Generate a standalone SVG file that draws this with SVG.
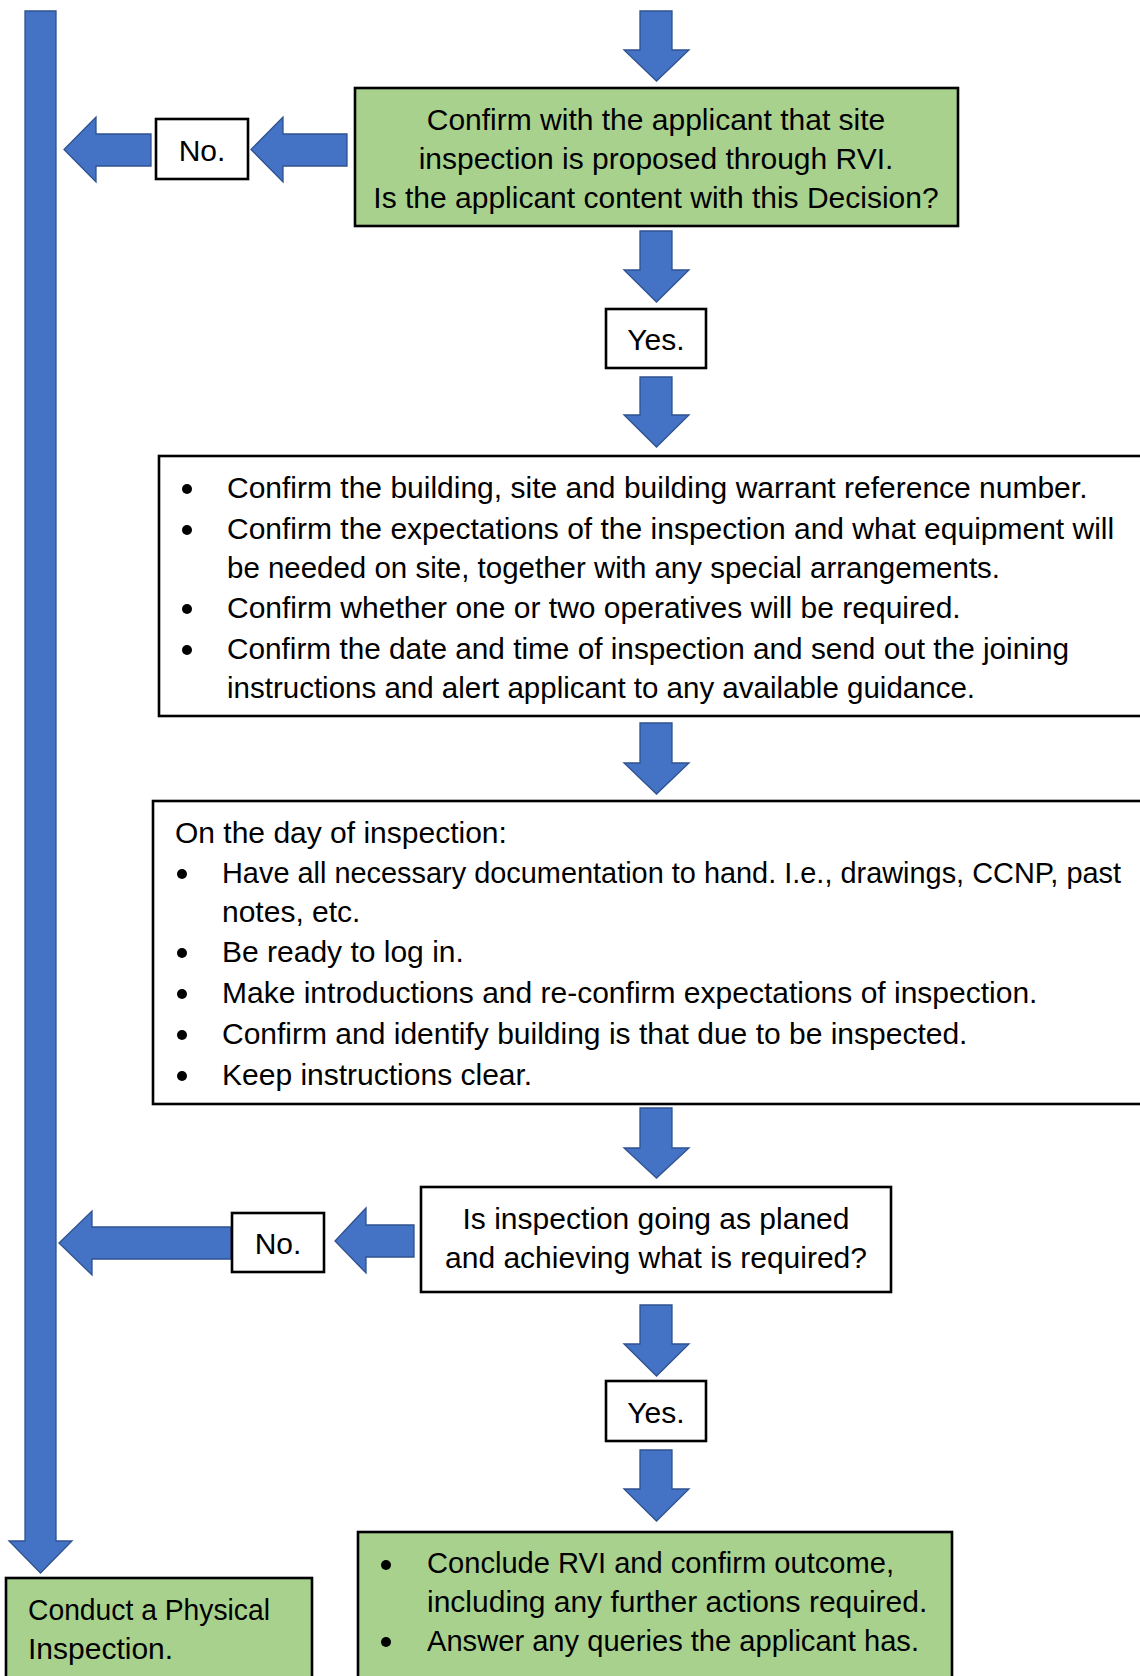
<svg xmlns="http://www.w3.org/2000/svg" width="1140" height="1676" viewBox="0 0 1140 1676">
<style>
.box{fill:#ffffff;stroke:#000000;stroke-width:2.6}
.gbox{fill:#a9d18e;stroke:#000000;stroke-width:2.6}
.arr{fill:#4472c4;stroke:#2f528f;stroke-width:1.3;stroke-linejoin:miter}
.t{font-family:"Liberation Sans",Arial,sans-serif;font-size:30px;fill:#000000}
.c{text-anchor:middle}
.dot{fill:#000000}
</style>
<rect width="1140" height="1676" fill="#ffffff"/>
<g id="connectors">
<polygon class="arr" points="25,11 56,11 56,1541 72,1541 40.5,1573 9,1541 25,1541"/>
<polygon class="arr" points="640,11 672,11 672,50 689,50 656.5,81 624,50 640,50"/>
<polygon class="arr" points="640,231 672,231 672,270 689,270 656.5,302 624,270 640,270"/>
<polygon class="arr" points="640,377 672,377 672,415 689,415 656.5,447 624,415 640,415"/>
<polygon class="arr" points="640,723 672,723 672,763 689,763 656.5,794 624,763 640,763"/>
<polygon class="arr" points="640,1108 672,1108 672,1148 689,1148 656.5,1178 624,1148 640,1148"/>
<polygon class="arr" points="640,1305 672,1305 672,1344 689,1344 656.5,1376 624,1344 640,1344"/>
<polygon class="arr" points="640,1450 672,1450 672,1489 689,1489 656.5,1521 624,1489 640,1489"/>
<polygon class="arr" points="347,134 347,166 283,166 283,182 251,149.5 283,117 283,134"/>
<polygon class="arr" points="151,134 151,166 96,166 96,182 64,149.5 96,117 96,134"/>
<polygon class="arr" points="414,1225 414,1257 366,1257 366,1273 335,1241 366,1208 366,1225"/>
<polygon class="arr" points="231,1227 231,1259 92,1259 92,1275 59,1243 92,1211 92,1227"/>
</g>
<g id="n-confirm">
<rect class="gbox" x="355" y="88" width="603" height="138"/>
<text class="t c" x="656" y="130">Confirm with the applicant that site</text>
<text class="t c" x="656" y="169">inspection is proposed through RVI.</text>
<text class="t c" x="656" y="208">Is the applicant content with this Decision?</text>
</g>
<g id="n-no1">
<rect class="box" x="156" y="119" width="92" height="60"/>
<text class="t c" x="202" y="161">No.</text>
</g>
<g id="n-yes1">
<rect class="box" x="606" y="309" width="100" height="59"/>
<text class="t c" x="656" y="350">Yes.</text>
</g>
<g id="n-prepare">
<rect class="box" x="159" y="456" width="1000" height="260"/>
<circle class="dot" cx="187" cy="489" r="5"/>
<circle class="dot" cx="187" cy="530" r="5"/>
<circle class="dot" cx="187" cy="609" r="5"/>
<circle class="dot" cx="187" cy="650" r="5"/>
<text class="t" x="227" y="498">Confirm the building, site and building warrant reference number.</text>
<text class="t" x="227" y="539">Confirm the expectations of the inspection and what equipment will</text>
<text class="t" x="227" y="578" textLength="773" lengthAdjust="spacingAndGlyphs">be needed on site, together with any special arrangements.</text>
<text class="t" x="227" y="618">Confirm whether one or two operatives will be required.</text>
<text class="t" x="227" y="659" textLength="842" lengthAdjust="spacingAndGlyphs">Confirm the date and time of inspection and send out the joining</text>
<text class="t" x="227" y="698" textLength="748" lengthAdjust="spacingAndGlyphs">instructions and alert applicant to any available guidance.</text>
</g>
<g id="n-day">
<rect class="box" x="153" y="801" width="1000" height="303"/>
<text class="t" x="175" y="843">On the day of inspection:</text>
<circle class="dot" cx="182" cy="874" r="5"/>
<circle class="dot" cx="182" cy="953" r="5"/>
<circle class="dot" cx="182" cy="994" r="5"/>
<circle class="dot" cx="182" cy="1035" r="5"/>
<circle class="dot" cx="182" cy="1076" r="5"/>
<text class="t" x="222" y="883" textLength="899" lengthAdjust="spacingAndGlyphs">Have all necessary documentation to hand. I.e., drawings, CCNP, past</text>
<text class="t" x="222" y="922">notes, etc.</text>
<text class="t" x="222" y="962">Be ready to log in.</text>
<text class="t" x="222" y="1003">Make introductions and re-confirm expectations of inspection.</text>
<text class="t" x="222" y="1044">Confirm and identify building is that due to be inspected.</text>
<text class="t" x="222" y="1085">Keep instructions clear.</text>
</g>
<g id="n-going">
<rect class="box" x="421" y="1187" width="470" height="105"/>
<text class="t c" x="656" y="1229">Is inspection going as planed</text>
<text class="t c" x="656" y="1268">and achieving what is required?</text>
</g>
<g id="n-no2">
<rect class="box" x="232" y="1213" width="92" height="59"/>
<text class="t c" x="278" y="1254">No.</text>
</g>
<g id="n-yes2">
<rect class="box" x="606" y="1381" width="100" height="60"/>
<text class="t c" x="656" y="1423">Yes.</text>
</g>
<g id="n-physical">
<rect class="gbox" x="6" y="1578" width="306" height="120"/>
<text class="t" x="28" y="1620" textLength="242" lengthAdjust="spacingAndGlyphs">Conduct a Physical</text>
<text class="t" x="28" y="1659">Inspection.</text>
</g>
<g id="n-conclude">
<rect class="gbox" x="358" y="1532" width="594" height="160"/>
<circle class="dot" cx="386" cy="1565" r="5"/>
<circle class="dot" cx="386" cy="1642" r="5"/>
<text class="t" x="427" y="1573" textLength="467" lengthAdjust="spacingAndGlyphs">Conclude RVI and confirm outcome,</text>
<text class="t" x="427" y="1612">including any further actions required.</text>
<text class="t" x="427" y="1651" textLength="492" lengthAdjust="spacingAndGlyphs">Answer any queries the applicant has.</text>
</g>
</svg>
